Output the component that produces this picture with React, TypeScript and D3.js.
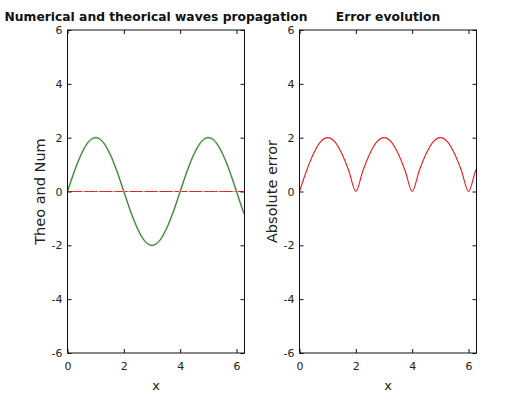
import { useEffect, useRef } from 'react';
import * as d3 from 'd3';

// sample positions along x (0 .. 2π)
const xs = [0, 0.25, 0.5, 0.75, 1, 1.25, 1.5, 1.75, 2, 2.25, 2.5, 2.75, 3, 3.25, 3.5, 3.75, 4, 4.25, 4.5, 4.75, 5, 5.25, 5.5, 5.75, 6, 6.25, 6.28];
// theoretical wave (green)
const theoWave = [0, 0.77, 1.41, 1.85, 2, 1.85, 1.41, 0.77, 0, -0.77, -1.41, -1.85, -2, -1.85, -1.41, -0.77, 0, 0.77, 1.41, 1.85, 2, 1.85, 1.41, 0.77, 0, -0.77, -0.85];
// numerical wave (red, flat)
const numWave = [0, 0, 0, 0, 0, 0, 0, 0, 0, 0, 0, 0, 0, 0, 0, 0, 0, 0, 0, 0, 0, 0, 0, 0, 0, 0, 0];
// absolute error
const absError = [0, 0.77, 1.41, 1.85, 2, 1.85, 1.41, 0.77, 0, 0.77, 1.41, 1.85, 2, 1.85, 1.41, 0.77, 0, 0.77, 1.41, 1.85, 2, 1.85, 1.41, 0.77, 0, 0.77, 0.85];

const xTicks = [0, 2, 4, 6];
const yTicks = [-6, -4, -2, 0, 2, 4, 6];

const FONT = '"DejaVu Sans", Verdana, sans-serif';

export default function App() {
  const svgRef = useRef<SVGSVGElement>(null);

  useEffect(() => {
    if (!svgRef.current) return;
    const svg = d3.select(svgRef.current);
    svg.selectAll('*').remove();

    svg.append('rect').attr('width', 526).attr('height', 397).attr('fill', '#fff');

    const panels = [
      { left: 67.5, right: 244.5, title: 'Numerical and theorical waves propagation', ylabel: 'Theo and Num' },
      { left: 299.5, right: 476.5, title: 'Error evolution', ylabel: 'Absolute error' },
    ];
    const top = 30;
    const bottom = 353;
    const fmt = (d: d3.NumberValue) => String(d);

    panels.forEach((p, pi) => {
      const x = d3.scaleLinear().domain([0, 2 * Math.PI]).range([p.left, p.right]);
      const y = d3.scaleLinear().domain([-6, 6]).range([bottom, top]);
      const g = svg.append('g');

      const line = d3.line<number>()
        .x((_, i) => x(xs[i]))
        .y((d) => y(d))
        .curve(d3.curveMonotoneX);

      if (pi === 0) {
        g.append('path').datum(numWave).attr('d', line).attr('fill', 'none')
          .attr('stroke', '#ee1c1c').attr('stroke-width', 1);
        g.append('path').datum(theoWave).attr('d', line).attr('fill', 'none')
          .attr('stroke', '#b4e0ac').attr('stroke-width', 2.2);
        g.append('path').datum(theoWave).attr('d', line).attr('fill', 'none')
          .attr('stroke', '#3d6b3d').attr('stroke-width', 1);
        g.append('path').datum(numWave).attr('d', line).attr('fill', 'none')
          .attr('stroke', '#9fd49a').attr('stroke-width', 1.2).attr('stroke-dasharray', '2,13');
      } else {
        g.append('path').datum(absError).attr('d', line).attr('fill', 'none')
          .attr('stroke', '#f01818').attr('stroke-width', 1.1);
      }

      const style = (sel: d3.Selection<SVGGElement, unknown, null, undefined>, labels: boolean) => {
        sel.select('.domain').remove();
        sel.selectAll('line').attr('stroke', '#111');
        sel.selectAll('text')
          .attr('font-family', FONT)
          .attr('font-size', 11)
          .attr('fill', labels ? '#222' : 'none');
      };

      g.append('g').attr('transform', `translate(0,${bottom})`)
        .call(d3.axisBottom(x).tickValues(xTicks).tickFormat(fmt).tickSizeInner(-4).tickSizeOuter(0).tickPadding(9))
        .call((s) => style(s, true));
      g.append('g').attr('transform', `translate(0,${top})`)
        .call(d3.axisTop(x).tickValues(xTicks).tickSizeInner(-4).tickSizeOuter(0).tickFormat(() => ''))
        .call((s) => style(s, false));
      g.append('g').attr('transform', `translate(${p.left},0)`)
        .call(d3.axisLeft(y).tickValues(yTicks).tickFormat(fmt).tickSizeInner(-4).tickSizeOuter(0).tickPadding(5))
        .call((s) => style(s, true));
      g.append('g').attr('transform', `translate(${p.right},0)`)
        .call(d3.axisRight(y).tickValues(yTicks).tickSizeInner(-4).tickSizeOuter(0).tickFormat(() => ''))
        .call((s) => style(s, false));

      g.append('rect')
        .attr('x', p.left).attr('y', top)
        .attr('width', p.right - p.left).attr('height', bottom - top)
        .attr('fill', 'none').attr('stroke', '#111').attr('stroke-width', 1);

      const cx = (p.left + p.right) / 2;
      g.append('text').attr('x', cx).attr('y', 21)
        .attr('text-anchor', 'middle').attr('font-family', FONT)
        .attr('font-size', 12.3).attr('font-weight', 'bold').attr('fill', '#111')
        .text(p.title);

      g.append('text').attr('x', cx).attr('y', 390)
        .attr('text-anchor', 'middle').attr('font-family', FONT)
        .attr('font-size', 13).attr('fill', '#222')
        .text('x');

      g.append('text')
        .attr('transform', `translate(${p.left - 23},${(top + bottom) / 2}) rotate(-90)`)
        .attr('text-anchor', 'middle').attr('font-family', FONT)
        .attr('font-size', 14.5).attr('fill', '#222')
        .text(p.ylabel);
    });
  }, []);

  return (
    <svg ref={svgRef} width={526} height={397}
      style={{ position: 'absolute', left: 0, top: 0, display: 'block' }} />
  );
}
